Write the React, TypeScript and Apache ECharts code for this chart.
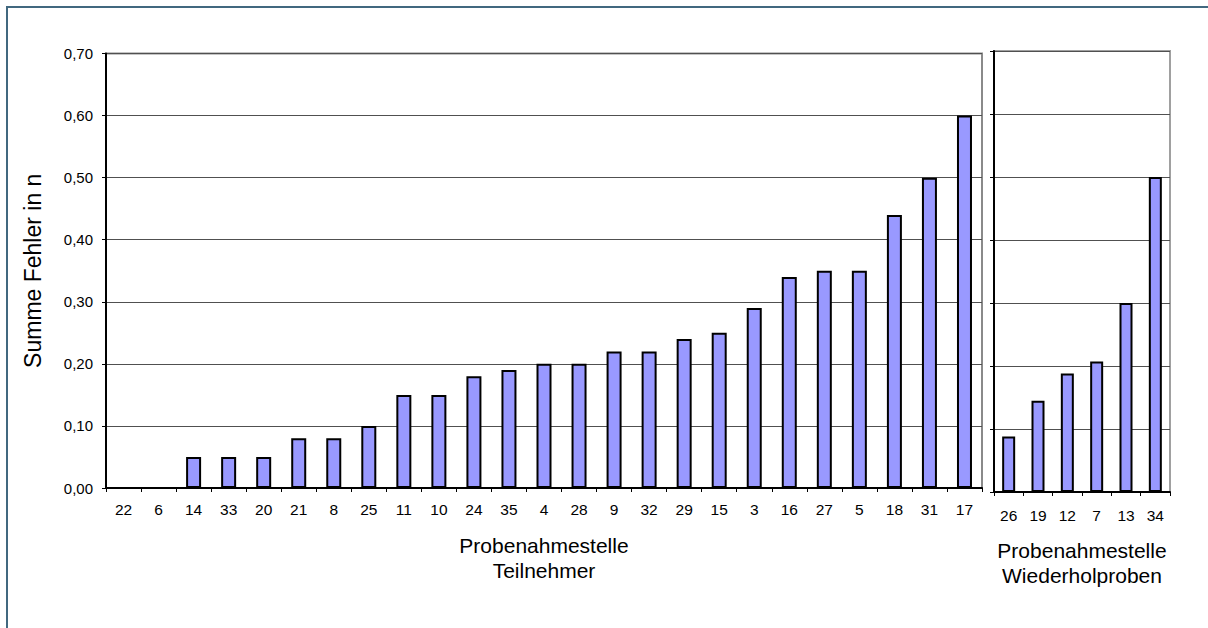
import React, { useEffect, useRef } from "react";
import * as echarts from "echarts";

// Sampling sites of the participants and their summed error
const teilnehmerLabels = ["22", "6", "14", "33", "20", "21", "8", "25", "11", "10", "24", "35", "4", "28", "9", "32", "29", "15", "3", "16", "27", "5", "18", "31", "17"];
const teilnehmerValues = [0, 0, 0.05, 0.05, 0.05, 0.08, 0.08, 0.1, 0.15, 0.15, 0.18, 0.19, 0.2, 0.2, 0.22, 0.22, 0.24, 0.25, 0.29, 0.34, 0.35, 0.35, 0.44, 0.5, 0.6];

// Repeat samples
const wiederholLabels = ["26", "19", "12", "7", "13", "34"];
const wiederholValues = [0.088, 0.145, 0.188, 0.207, 0.3, 0.5];

const yMin = 0;
const yMax = 0.7;
const yStep = 0.1;

const FONT = "'Liberation Sans', Arial, sans-serif";
const BAR_FILL = "#9999ff";

const fmt = (v: number) => v.toFixed(2).replace(".", ",");

export default function App() {
  const ref = useRef<HTMLDivElement>(null);

  useEffect(() => {
    if (!ref.current) return;
    const chart = echarts.init(ref.current, undefined, { renderer: "svg" });

    const valueAxisBase = {
      type: "value" as const,
      min: yMin,
      max: yMax,
      interval: yStep,
      axisLine: { show: true, lineStyle: { color: "#000", width: 2 } },
      axisTick: { show: true, length: 4, lineStyle: { color: "#000", width: 1 } },
      splitLine: { show: true, lineStyle: { color: "#505050", width: 1 } },
    };

    const categoryAxisBase = {
      type: "category" as const,
      boundaryGap: true,
      axisLine: { show: true, lineStyle: { color: "#000", width: 2 } },
      axisTick: { show: true, length: 4, lineStyle: { color: "#000", width: 1 } },
      axisLabel: { interval: 0, color: "#000", fontSize: 15.5, fontFamily: FONT, margin: 13 },
      nameLocation: "middle" as const,
      nameTextStyle: { color: "#000", fontSize: 21, lineHeight: 25, fontFamily: FONT },
    };

    chart.setOption({
      animation: false,
      backgroundColor: "#ffffff",
      textStyle: { fontFamily: FONT },
      graphic: [
        {
          type: "rect",
          silent: true,
          shape: { x: 7, y: 7, width: 1300, height: 700 },
          style: { fill: "none", stroke: "#41687f", lineWidth: 2 },
        },
      ],
      grid: [
        { left: 106, top: 53.5, width: 876, height: 434.5, show: true, borderColor: "#8a8a8a", borderWidth: 2 },
        { left: 994, top: 51, width: 176, height: 441, show: true, borderColor: "#a0a0a0", borderWidth: 2 },
      ],
      xAxis: [
        {
          ...categoryAxisBase,
          gridIndex: 0,
          data: teilnehmerLabels,
          name: "Probenahmestelle\nTeilnehmer",
          nameGap: 45,
        },
        {
          ...categoryAxisBase,
          gridIndex: 1,
          data: wiederholLabels,
          axisLabel: { ...categoryAxisBase.axisLabel, margin: 15 },
          name: "Probenahmestelle\nWiederholproben",
          nameGap: 46,
        },
      ],
      yAxis: [
        {
          ...valueAxisBase,
          gridIndex: 0,
          axisLabel: { color: "#000", fontSize: 15, fontFamily: FONT, margin: 13, formatter: fmt },
          name: "Summe Fehler in n",
          nameLocation: "middle",
          nameRotate: 90,
          nameGap: 62,
          nameTextStyle: { color: "#000", fontSize: 23, fontFamily: FONT },
        },
        {
          ...valueAxisBase,
          gridIndex: 1,
          axisLabel: { show: false },
        },
      ],
      series: [
        {
          type: "bar",
          xAxisIndex: 0,
          yAxisIndex: 0,
          data: teilnehmerValues,
          barWidth: 15,
          itemStyle: { color: BAR_FILL, borderColor: "#000", borderWidth: 2 },
        },
        {
          type: "bar",
          xAxisIndex: 1,
          yAxisIndex: 1,
          data: wiederholValues,
          barWidth: 13,
          itemStyle: { color: BAR_FILL, borderColor: "#000", borderWidth: 2 },
        },
      ],
    });

    return () => chart.dispose();
  }, []);

  return (
    <div
      ref={ref}
      style={{ position: "fixed", left: 0, top: 0, width: 1208, height: 628, background: "#fff" }}
    />
  );
}
